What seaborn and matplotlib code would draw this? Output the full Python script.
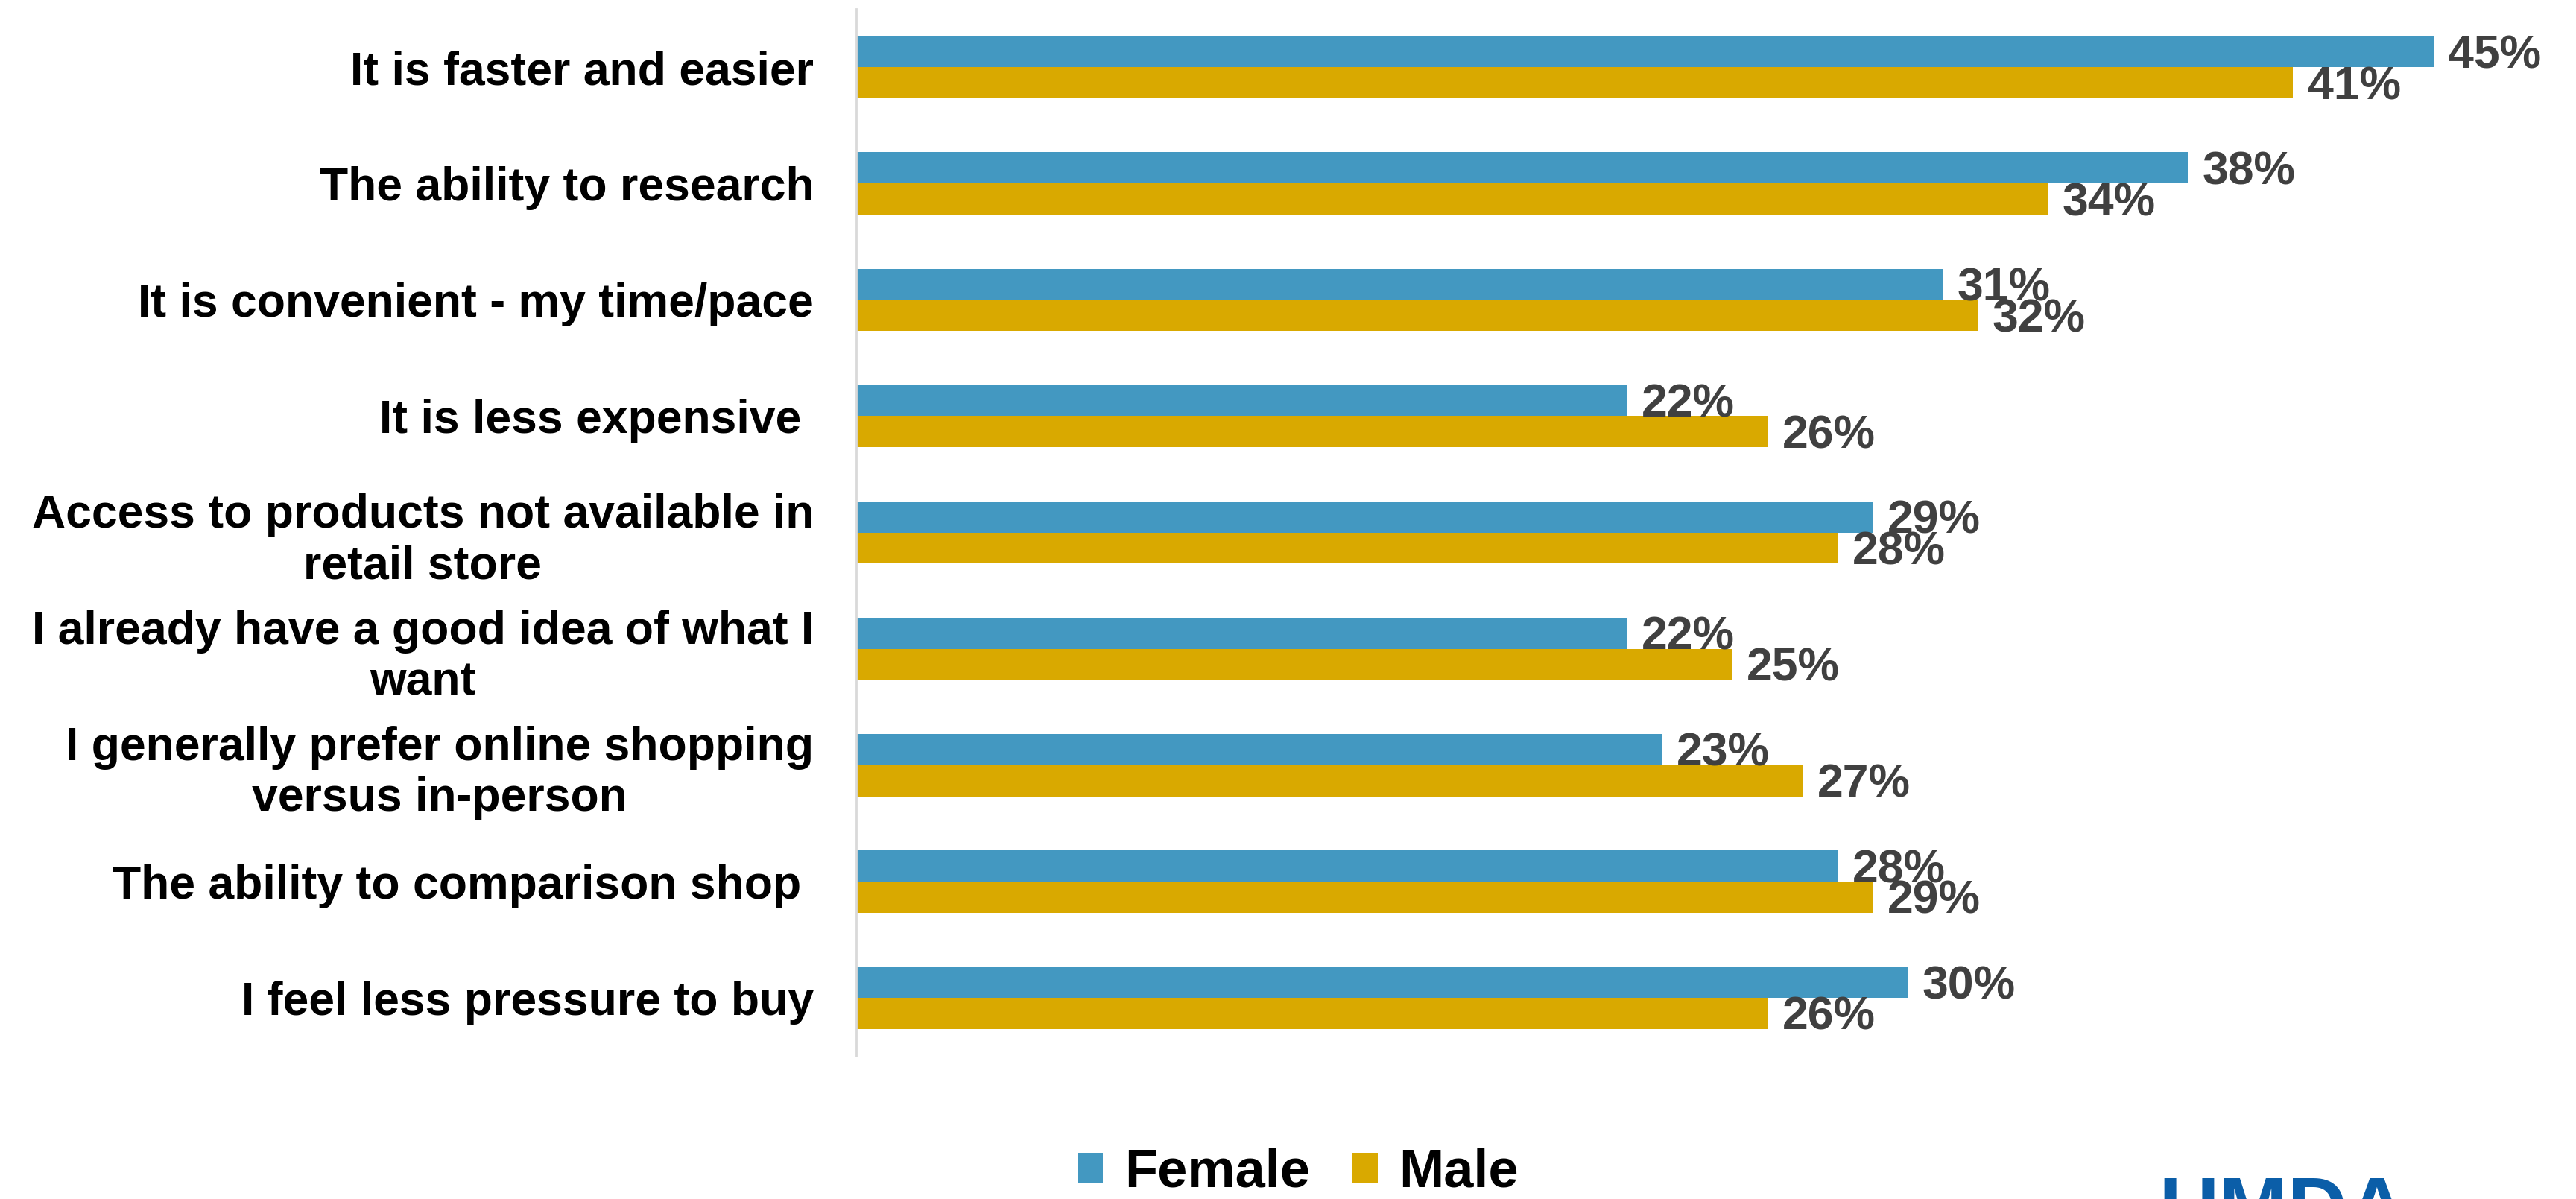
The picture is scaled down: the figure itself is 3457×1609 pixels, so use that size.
import pandas as pd
import matplotlib.pyplot as plt
from matplotlib.patches import Patch
import seaborn as sns

# ── Data ──────────────────────────────────────────────────────────────────────

categories = [
    "It is faster and easier",
    "The ability to research",
    "It is convenient - my time/pace",
    "It is less expensive ",
    "Access to products not available in\nretail store",
    "I already have a good idea of what I\nwant",
    "I generally prefer online shopping\nversus in-person",
    "The ability to comparison shop ",
    "I feel less pressure to buy",
]
female = [45, 38, 31, 22, 29, 22, 23, 28, 30]
male = [41, 34, 32, 26, 28, 25, 27, 29, 26]
series = ["Female", "Male"]
colors = {"Female": "#4398C1", "Male": "#D9A900"}

# ── Style ─────────────────────────────────────────────────────────────────────

sns.set_theme(style="white")
plt.rcParams["font.family"] = ["Liberation Sans", "DejaVu Sans"]
plt.rcParams["font.weight"] = "bold"

df = pd.DataFrame({
    "Reason": categories * 2,
    "Share": female + male,
    "Gender": ["Female"] * len(categories) + ["Male"] * len(categories),
})

fig = plt.figure(figsize=(34.57, 16.09), dpi=100)
ax = fig.add_axes([0.3324, 0.1193, 1 - 0.3324, 0.9925 - 0.1193])

sns.barplot(
    data=df, x="Share", y="Reason", hue="Gender",
    order=categories, hue_order=series, palette=colors, saturation=1,
    orient="h", width=0.535, linewidth=0, legend=False, ax=ax,
)

# value labels, nudged down a little to sit on the bar centre
for cont in ax.containers:
    anns = ax.bar_label(cont, labels=[f"{v:.0f}%" for v in cont.datavalues],
                        padding=14, fontsize=45, fontweight="bold", color="#404040")
    for a in anns:
        a.xyann = (14, -4)

ax.set_xlim(0, 49.07)
ax.set_ylim(len(categories) - 0.5, -0.5)
ax.set_xlabel("")
ax.set_ylabel("")
ax.set_xticks([])
ax.tick_params(axis="y", length=0, pad=41)
for lab in ax.get_yticklabels():
    lab.set_fontsize(45)
    lab.set_fontweight("bold")
    lab.set_color("black")
    lab.set_multialignment("center")

sns.despine(ax=ax, top=True, right=True, bottom=True, left=False)
ax.spines["left"].set_color("#D9D9D9")
ax.spines["left"].set_linewidth(2)

# ── Legend ────────────────────────────────────────────────────────────────────

handles = [Patch(facecolor=colors[s], edgecolor="none") for s in series]
leg = fig.legend(handles, series, loc="center", bbox_to_anchor=(0.504, 0.022),
                 ncol=2, frameon=False, prop={"size": 52, "weight": "bold"},
                 handlelength=0.46, handleheight=0.46, handletextpad=0.4,
                 columnspacing=0.8, borderpad=0)
for t in leg.get_texts():
    t.set_color("black")

# partial logo at the bottom-right edge
fig.text(0.838, -0.045, "UMDA", fontsize=80, fontweight="bold",
         color="#0B5EA8", ha="left", va="bottom")

fig.savefig("out.png", dpi=100)
